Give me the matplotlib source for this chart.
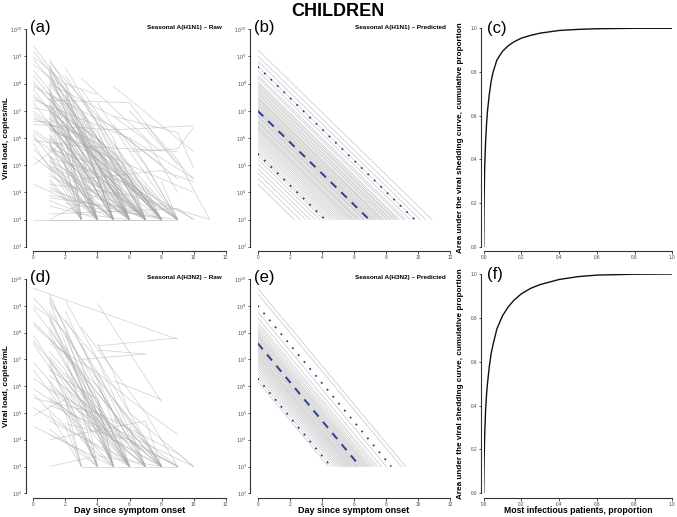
import matplotlib
matplotlib.use("Agg")
import matplotlib.pyplot as plt
import numpy as np

plt.rcParams['font.family'] = ['Liberation Sans', 'DejaVu Sans']

# ---------------- DATA ----------------
FLOOR = 3.0  # log10 detection floor
day_ticks = [0, 2, 4, 6, 8, 10, 12]
log_ticks = [2, 3, 4, 5, 6, 7, 8, 9, 10]
prop_ticks = [0.0, 0.2, 0.4, 0.6, 0.8, 1.0]

# raw trajectories: list of (day, log10 viral load) points per patient
raw_h1n1 = [
    [(0, 9.4), (4, 6.2), (7, 3)], [(0, 9.2), (3, 7.0), (6, 3)], [(0, 8.7), (2, 7.8), (5, 3)],
    [(0, 8.3), (4, 5.5), (8, 3)], [(0, 8.1), (3, 6.0), (5, 3)], [(0, 7.9), (5, 6.4), (9, 4.5)],
    [(0, 7.6), (2, 6.5), (4, 3)], [(0, 7.4), (6, 6.0), (10, 4.5)], [(0, 7.3), (3, 5.0), (6, 3)],
    [(0, 7.1), (1, 7.0), (4, 4.5), (7, 3)], [(0, 6.9), (4, 5.2), (9, 3)], [(0, 6.7), (3, 6.1), (8, 3)],
    [(0, 6.5), (5, 6.3), (10, 6.45)], [(0, 6.3), (2, 5.5), (6, 3)], [(0, 6.1), (4, 3)],
    [(0, 5.9), (3, 5.7), (9, 5.5)], [(0, 5.6), (1, 5.0), (4, 3)], [(0, 5.3), (3, 4.0), (5, 3)],
    [(0, 9.0), (2, 8.0), (4, 7.6)], [(0, 8.5), (5, 4.8), (8, 3)], [(0, 7.0), (9, 3)],
    [(0, 3.0), (9, 3.0)], [(1, 8.9), (3, 7.0), (7, 3)], [(1, 8.8), (4, 6.8), (8, 5.0)],
    [(1, 8.6), (2, 7.7), (5, 3)], [(1, 8.4), (3, 5.5), (4, 3)], [(1, 8.2), (4, 5.0), (7, 3)],
    [(1, 8.0), (5, 6.8), (8, 5.5)], [(1, 7.8), (3, 4.5), (4, 3)], [(1, 7.6), (2, 7.2), (6, 3)],
    [(1, 7.5), (3, 6.0), (5, 3)], [(1, 7.4), (6, 7.3), (9, 5.0)], [(1, 7.3), (4, 4.6), (6, 3)],
    [(1, 7.2), (2, 6.0), (3, 3)], [(1, 7.0), (5, 5.0), (8, 3)], [(1, 6.9), (3, 5.2), (7, 3)],
    [(1, 6.7), (4, 5.8), (9, 3)], [(1, 6.6), (2, 5.5), (4, 3)], [(1, 6.4), (3, 4.0), (5, 3)],
    [(1, 6.3), (6, 5.0), (10, 4.0)], [(1, 6.1), (4, 3.8), (6, 3)], [(1, 6.0), (3, 5.3), (8, 3)],
    [(1, 5.9), (2, 4.5), (3, 3)], [(1, 5.7), (5, 4.2), (7, 3)], [(1, 5.6), (4, 5.0), (9, 3)],
    [(1, 5.4), (3, 3)], [(1, 5.3), (6, 4.3), (9, 3)], [(1, 5.2), (4, 3)],
    [(1, 5.0), (3, 4.4), (6, 3)], [(1, 4.9), (5, 3)], [(1, 4.7), (2, 4.2), (4, 3)],
    [(1, 4.6), (7, 3)], [(1, 4.4), (3, 3)], [(1, 4.3), (6, 3.9), (11, 3)],
    [(1, 4.1), (4, 3.5), (5, 3)], [(1, 3.9), (8, 3)], [(1, 3.7), (4, 3)],
    [(1, 3.5), (3, 3.2), (6, 3)], [(1, 3.0), (8, 3.0)], [(1, 3.2), (9, 3.4), (10, 3.0)],
    [(2, 8.6), (5, 5.5), (8, 3)], [(2, 8.0), (4, 5.0), (7, 3)], [(2, 7.3), (3, 6.5), (6, 3)],
    [(2, 6.8), (7, 4.0), (10, 3)], [(2, 6.2), (5, 4.2), (7, 3)], [(2, 5.5), (4, 3)],
    [(2, 4.8), (6, 3)], [(2, 3.6), (5, 3.3), (9, 3)], [(3, 8.2), (7, 6.0), (9, 4.0)],
    [(3, 7.4), (6, 5.0), (8, 3)], [(3, 6.6), (5, 4.5), (9, 3)], [(3, 5.9), (7, 3)],
    [(4, 7.3), (6, 5.5), (9, 5.6), (10, 6.4)], [(4, 6.0), (8, 3)], [(5, 7.9), (10, 5.5)],
    [(5, 6.8), (9, 6.2), (10, 4.9)], [(6, 7.0), (8, 5.7), (10, 4.5)], [(7, 6.5), (9, 5.2), (11, 3)],
    [(3, 4.5), (8, 4.8), (10, 4.4)], [(0, 4.3), (3, 3.5), (4, 3)], [(0, 5.0), (2, 5.9), (5, 3)],
    [(1, 8.5), (2, 7.0), (3, 3)], [(1, 7.9), (2, 5.0), (4, 3)], [(1, 6.8), (3, 3)],
    [(2, 7.0), (3, 3)], [(4, 4.5), (5, 3)], [(5, 5.0), (6, 3)], [(6, 4.6), (7, 3)],
    [(7, 4.2), (8, 3)], [(8, 4.4), (9, 3)], [(1, 3.0), (4, 3.9), (8, 3)],
    [(0, 6.6), (1, 6.6), (3, 5.0), (5, 3)], [(1, 7.7), (4, 4.0), (5, 3)], [(1, 6.5), (5, 3.6), (7, 3)],
    [(2, 7.6), (5, 4.0), (6, 3)], [(3, 6.2), (6, 3.6), (7, 3)], [(4, 5.4), (8, 3)],
    [(5, 5.8), (7, 4.0), (8, 3)], [(6, 5.5), (9, 3)], [(2, 5.0), (3, 3)],
    [(0, 8.9), (3, 6.8), (6, 3)], [(0, 8.0), (2, 6.8), (4, 5.0), (7, 3)], [(0, 7.8), (3, 5.5), (5, 3)],
    [(0, 7.5), (4, 6.0), (8, 3)], [(0, 6.8), (2, 6.0), (5, 3)], [(0, 6.0), (3, 4.8), (7, 3)],
    [(0, 5.8), (2, 4.0), (3, 3)], [(1, 8.7), (3, 6.0), (6, 3)], [(1, 8.3), (2, 7.5), (4, 5.0), (6, 3)],
    [(1, 8.1), (3, 6.5), (8, 3)], [(1, 7.95), (4, 6.0), (9, 3)], [(1, 7.65), (2, 6.8), (5, 4.0), (7, 3)],
    [(1, 7.45), (4, 5.2), (5, 3)], [(1, 7.25), (3, 5.5), (6, 3)], [(1, 7.1), (5, 4.6), (7, 3)],
    [(1, 6.95), (2, 6.2), (4, 3)], [(1, 6.75), (4, 4.5), (6, 3)], [(1, 6.55), (3, 5.0), (5, 3)],
    [(1, 6.35), (5, 5.2), (8, 3)], [(1, 6.15), (2, 5.3), (4, 3)], [(1, 5.95), (4, 4.6), (7, 3)],
    [(1, 5.75), (3, 4.2), (4, 3)], [(1, 5.55), (5, 3.8), (6, 3)], [(1, 5.35), (2, 4.8), (5, 3)],
    [(1, 5.15), (6, 3.6), (8, 3)], [(1, 4.95), (4, 3.9), (6, 3)], [(1, 4.5), (2, 3.8), (3, 3)],
    [(1, 4.2), (5, 3)], [(1, 3.8), (6, 3.4), (7, 3)], [(2, 8.3), (4, 6.5), (7, 3)],
    [(2, 7.8), (5, 5.0), (7, 3)], [(2, 7.5), (3, 6.0), (5, 3)], [(2, 6.6), (4, 5.0), (6, 3)],
    [(2, 6.4), (6, 4.5), (8, 3)], [(2, 5.8), (3, 4.5), (4, 3)], [(2, 5.2), (5, 3.5), (6, 3)],
    [(2, 4.4), (4, 3)], [(3, 7.8), (5, 6.0), (7, 3)], [(3, 7.0), (4, 6.0), (6, 3)],
    [(3, 6.4), (6, 5.0), (9, 3)], [(3, 5.5), (5, 4.0), (6, 3)], [(3, 5.0), (4, 3)],
    [(4, 6.8), (6, 4.5), (8, 3)], [(4, 6.3), (5, 5.0), (7, 3)], [(4, 5.8), (6, 3)],
    [(4, 5.0), (7, 3.8), (8, 3)], [(5, 6.5), (7, 5.0), (9, 3)], [(5, 5.5), (7, 3)],
    [(6, 6.0), (8, 4.0), (9, 3)], [(0, 6.2), (1, 5.8), (2, 5.0), (4, 3)],
]

raw_h3n2 = [
    [(0, 9.65), (9, 7.75)], [(0, 9.3), (2, 8.0), (5, 3)], [(0, 8.9), (3, 6.5), (6, 3)],
    [(0, 8.4), (4, 6.0), (7, 3)], [(0, 8.3), (2, 7.2), (5, 5.0), (8, 3)], [(0, 7.7), (3, 5.5), (5, 3)],
    [(0, 7.6), (4, 4.0), (6, 3)], [(0, 6.9), (2, 5.5), (4, 3)], [(0, 6.3), (3, 5.0), (7, 3)],
    [(0, 5.9), (5, 4.0), (8, 3)], [(0, 5.7), (2, 4.5), (3, 3)], [(0, 5.55), (4, 5.0), (9, 3.5), (10, 3)],
    [(0, 5.2), (6, 3)], [(1, 9.45), (3, 6.8), (5, 3)], [(1, 9.3), (2, 8.2), (4, 5.5), (6, 3)],
    [(1, 9.1), (4, 7.0), (8, 3)], [(1, 8.8), (3, 7.0), (7, 7.2)], [(1, 8.5), (2, 7.2), (4, 3)],
    [(1, 8.0), (3, 5.8), (5, 3)], [(1, 7.6), (4, 6.5), (7, 3)], [(1, 7.3), (2, 6.6), (5, 3)],
    [(1, 6.8), (3, 4.5), (4, 3)], [(1, 6.6), (4, 5.5), (6, 3)], [(1, 6.4), (5, 4.5), (8, 3)],
    [(1, 6.2), (2, 5.0), (3, 3)], [(1, 5.9), (3, 5.2), (7, 3)], [(1, 5.6), (4, 4.2), (5, 3)],
    [(1, 5.3), (6, 4.0), (9, 3)], [(1, 5.0), (3, 3)], [(1, 4.7), (5, 3.5), (7, 3)],
    [(1, 4.4), (4, 3)], [(1, 3.0), (4, 3.4), (8, 3)], [(2, 9.2), (4, 7.0), (7, 3)],
    [(2, 8.5), (5, 5.5), (8, 3)], [(2, 7.9), (3, 6.5), (6, 3)], [(2, 7.2), (4, 5.5), (5, 3)],
    [(2, 6.5), (5, 4.5), (7, 3)], [(2, 5.7), (4, 3)], [(2, 4.6), (6, 4.0), (9, 3)],
    [(3, 8.2), (7, 5.0), (9, 3)], [(3, 7.0), (6, 4.8), (8, 3)], [(3, 6.0), (4, 4.5), (5, 3)],
    [(4, 9.1), (8, 5.4)], [(4, 7.6), (5, 6.5), (6, 5.0), (10, 3)], [(4, 7.5), (5.7, 7.6), (9, 7.8)],
    [(4, 7.35), (7, 7.2)], [(4, 6.5), (6, 5.5), (9, 4.2)], [(5, 6.2), (8, 5.5)],
    [(3, 5.0), (10, 3)], [(0, 4.9), (2, 5.5), (3, 3)], [(1, 4.0), (7, 4.7), (8, 3)],
    [(0, 7.9), (1, 7.0), (2, 6.2), (6, 3)], [(3, 4.3), (5, 3)], [(6, 4.5), (7, 3)],
    [(7, 4.0), (8, 3)], [(1, 8.2), (5, 4.2), (9, 3)], [(3, 3.0), (9, 3.0)],
    [(2, 6.0), (6, 3)], [(1, 7.0), (3, 5.0), (6, 3)], [(5, 4.8), (9, 3)],
    [(0, 9.0), (1, 8.6), (3, 6.0), (5, 3)], [(0, 6.6), (3, 4.2), (4, 3)], [(1, 9.2), (3, 6.0), (6, 3)],
    [(1, 8.6), (4, 5.0), (6, 3)], [(1, 7.8), (2, 6.8), (5, 4.0), (7, 3)], [(1, 7.1), (4, 5.0), (8, 3)],
    [(1, 6.9), (3, 4.0), (5, 3)], [(1, 6.0), (4, 4.8), (6, 3)], [(1, 5.5), (3, 4.5), (4, 3)],
    [(2, 8.8), (4, 6.2), (6, 3)], [(2, 8.0), (5, 5.0), (8, 3)], [(2, 7.5), (3, 6.0), (4, 3)],
    [(2, 6.8), (4, 4.8), (6, 3)], [(2, 6.2), (5, 4.0), (8, 3)], [(3, 7.6), (5, 5.0), (7, 3)],
    [(3, 6.5), (5, 5.0), (6, 3)], [(3, 5.5), (6, 3.8), (7, 3)], [(4, 6.0), (6, 4.0), (8, 3)],
    [(4, 5.5), (5, 3)], [(5, 5.5), (7, 4.0), (8, 3)], [(0, 4.5), (1, 4.2), (5, 3)],
    [(1, 4.2), (3, 3.6), (4, 3)],
]

# predicted: start value (log10 at day 0), common decline slope (log10/day)
pred_h1n1_slope = 0.575
pred_h1n1_starts = [9.25, 9.02, 8.83, 8.64, 8.47, 8.31, 8.22, 8.08, 8.01, 7.93, 7.88, 7.79, 7.74, 7.66,
                    7.61, 7.52, 7.47, 7.43, 7.36, 7.31, 7.24, 7.19, 7.13, 7.08, 7.02, 6.96, 6.93, 6.86,
                    6.81, 6.77, 6.69, 6.64, 6.58, 6.55, 6.47, 6.41, 6.36, 6.31, 6.24, 6.17, 6.09, 6.02,
                    5.94, 5.86, 5.77, 5.69, 5.58, 5.47, 5.36, 5.22, 5.06, 4.88, 4.71, 4.52, 4.31]
pred_h1n1_mean = 7.0
pred_h1n1_upper = 8.63
pred_h1n1_lower = 5.42

pred_h3n2_slope = 0.72
pred_h3n2_starts = [9.65, 9.45, 8.78, 8.55, 8.38, 8.27, 8.16, 8.07, 7.98, 7.92, 7.85, 7.78, 7.71,
                    7.66, 7.58, 7.52, 7.46, 7.41, 7.35, 7.28, 7.22, 7.16, 7.11, 7.04, 6.97, 6.9,
                    6.83, 6.75, 6.66, 6.57, 6.46, 6.33, 6.18]
pred_h3n2_mean = 7.6
pred_h3n2_upper = 9.0
pred_h3n2_lower = 6.29

# Lorenz-type curves: proportion of most infectious patients vs cumulative AUC
lorenz_x = [0, 0.002, 0.005, 0.01, 0.015, 0.02, 0.03, 0.04, 0.05, 0.07, 0.1, 0.13, 0.16,
            0.2, 0.25, 0.3, 0.4, 0.5, 0.6, 0.8, 1.0]
lorenz_h1n1 = [0, 0.2, 0.36, 0.48, 0.56, 0.62, 0.70, 0.76, 0.80, 0.855, 0.895, 0.92, 0.938,
               0.955, 0.968, 0.978, 0.99, 0.995, 0.998, 1.0, 1.0]
lorenz_h3n2 = [0, 0.14, 0.26, 0.38, 0.45, 0.50, 0.58, 0.64, 0.68, 0.75, 0.81, 0.85, 0.88,
               0.91, 0.935, 0.952, 0.975, 0.988, 0.995, 0.999, 1.0]

# ---------------- FIGURE ----------------
W, H = 677, 517
fig = plt.figure(figsize=(W / 100, H / 100), dpi=100)


def add_ax(x0, x1, yt, yb):
    return fig.add_axes([x0 / W, 1 - yb / H, (x1 - x0) / W, (yb - yt) / H])


def style(ax, xlim, ylim, xt, xtl, yt, ytl, loff, boff):
    ax.set_xlim(xlim)
    ax.set_ylim(ylim)
    for s in ['top', 'right']:
        ax.spines[s].set_visible(False)
    ax.spines['left'].set_position(('outward', loff))
    ax.spines['bottom'].set_position(('outward', boff))
    ax.spines['left'].set_bounds(ylim[0], ylim[1])
    ax.spines['bottom'].set_bounds(xlim[0], xlim[1])
    for s in ['left', 'bottom']:
        ax.spines[s].set_linewidth(0.8)
        ax.spines[s].set_color('#333333')
    ax.set_xticks(xt)
    ax.set_xticklabels(xtl)
    ax.set_yticks(yt)
    ax.set_yticklabels(ytl)
    ax.tick_params(length=1.8, width=0.6, labelsize=3.4, pad=0.8, color='#333333',
                   labelcolor='#444444')
    ax.patch.set_alpha(0)


ylog_labels = ['$10^{%d}$' % k for k in log_ticks]
prop_labels = ['%.1f' % v for v in prop_ticks]

RAW_COLOR = '#a8a8a8'
PRED_COLOR = '#bdbdbd'
BLUE = '#2f3f93'


def raw_panel(ax, trajs, label, subtitle):
    for tr in trajs:
        d = [p[0] for p in tr]
        v = [p[1] for p in tr]
        ax.plot(d, v, color=RAW_COLOR, lw=0.55, alpha=0.5, solid_capstyle='butt')
    style(ax, (0, 12), (2, 10), day_ticks, [str(t) for t in day_ticks], log_ticks, ylog_labels, 5.5, 3.4)
    ax.text(-0.2, 10.05, label, fontsize=12, va='center', ha='left')
    ax.text(11.75, 10.05, subtitle, fontsize=4.6, fontweight='bold', va='center', ha='right')


def pred_panel(ax, starts, slope, mean, upper, lower, label, subtitle):
    for s in starts:
        tend = (s - FLOOR) / slope
        ax.plot([0, tend], [s, FLOOR], color=PRED_COLOR, lw=0.6, alpha=0.7)
    for s, ls, lw in [(mean, (0, (4, 3.5)), 1.4), (upper, (0, (1, 4)), 1.3), (lower, (0, (1, 4)), 1.3)]:
        tend = (s - FLOOR) / slope
        ax.plot([0, tend], [s, FLOOR], color=BLUE, lw=lw, ls=ls)
    style(ax, (0, 12), (2, 10), day_ticks, [str(t) for t in day_ticks], log_ticks, ylog_labels, 5.5, 3.4)
    ax.text(-0.2, 10.05, label, fontsize=12, va='center', ha='left')
    ax.text(11.75, 10.05, subtitle, fontsize=4.6, fontweight='bold', va='center', ha='right')


def lorenz_panel(ax, x, y, label):
    ax.plot(x, y, color='#111111', lw=1.0)
    style(ax, (0, 1), (0, 1), prop_ticks, prop_labels, prop_ticks, prop_labels, 2.2, 3.4)
    ax.text(0.02, 1.0, label, fontsize=12, va='center', ha='left')


ax_a = add_ax(33.3, 225.7, 29.3, 246.7)
ax_b = add_ax(257.7, 450.0, 29.3, 246.7)
ax_c = add_ax(483.7, 672.3, 28.3, 246.7)
ax_d = add_ax(33.3, 225.7, 279.0, 493.3)
ax_e = add_ax(257.7, 450.0, 279.0, 493.3)
ax_f = add_ax(483.7, 672.3, 274.0, 493.3)

raw_panel(ax_a, raw_h1n1, '(a)', 'Seasonal A(H1N1) \u2013 Raw')
pred_panel(ax_b, pred_h1n1_starts, pred_h1n1_slope, pred_h1n1_mean, pred_h1n1_upper,
           pred_h1n1_lower, '(b)', 'Seasonal A(H1N1) \u2013 Predicted')
lorenz_panel(ax_c, lorenz_x, lorenz_h1n1, '(c)')
raw_panel(ax_d, raw_h3n2, '(d)', 'Seasonal A(H3N2) \u2013 Raw')
pred_panel(ax_e, pred_h3n2_starts, pred_h3n2_slope, pred_h3n2_mean, pred_h3n2_upper,
           pred_h3n2_lower, '(e)', 'Seasonal A(H3N2) \u2013 Predicted')
lorenz_panel(ax_f, lorenz_x, lorenz_h3n2, '(f)')

# titles and axis labels
fig.text(338 / W, 1 - 11 / H, 'CHILDREN', ha='center', va='center', fontsize=13, fontweight='bold')
for yc in [(29.3 + 246.7) / 2, (279 + 493.3) / 2]:
    fig.text(6.5 / W, 1 - yc / H, 'Viral load, copies/mL', rotation=90, ha='center', va='center',
             fontsize=5.9, fontweight='bold')
for yc in [(28.3 + 246.7) / 2, (274 + 493.3) / 2]:
    fig.text(461 / W, 1 - yc / H, 'Area under the viral shedding curve, cumulative proportion',
             rotation=90, ha='center', va='center', fontsize=5.9, fontweight='bold')
for xc in [(33.3 + 225.7) / 2, (257.7 + 450) / 2]:
    fig.text(xc / W, 1 - 510.5 / H, 'Day since symptom onset', ha='center', va='center',
             fontsize=6.5, fontweight='bold')
fig.text(578 / W, 1 - 510.5 / H, 'Most infectious patients, proportion', ha='center', va='center',
         fontsize=6.2, fontweight='bold')

fig.savefig('out.png', dpi=100)
